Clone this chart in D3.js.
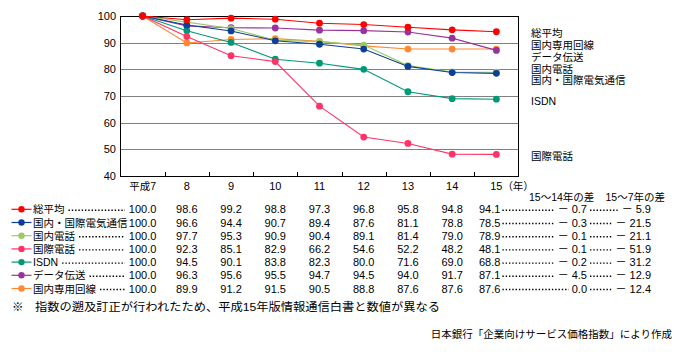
<!DOCTYPE html>
<html>
<head>
<meta charset="utf-8">
<script src="https://cdn.jsdelivr.net/npm/d3@7"></script>
<style>
  body { margin: 0; background: #fff; }
  text { font-family: 'Liberation Sans', 'Noto Sans CJK JP', sans-serif; fill: #000; }
</style>
</head>
<body>
<div id="main"></div>
<script>
const ctx = { w: 679, h: 352 };
const plot = { left: 120.5, right: 518.5, top: 16, bottom: 176 };

// years (平成)
const years = ['平成7', '8', '9', '10', '11', '12', '13', '14', '15'];
const yTicks = [40, 50, 60, 70, 80, 90, 100];

const names = ['総平均', '国内・国際電気通信', '国内電話', '国際電話', 'ISDN', 'データ伝送', '国内専用回線'];
const colors = ['#ff0000', '#0c3f99', '#99cc66', '#ff3366', '#009977', '#993399', '#ff8833'];

const totalAvg   = [100.0, 98.6, 99.2, 98.8, 97.3, 96.8, 95.8, 94.8, 94.1];
const domIntl    = [100.0, 96.6, 94.4, 90.7, 89.4, 87.6, 81.1, 78.8, 78.5];
const domPhone   = [100.0, 97.7, 95.3, 90.9, 90.4, 89.1, 81.4, 79.0, 78.9];
const intlPhone  = [100.0, 92.3, 85.1, 82.9, 66.2, 54.6, 52.2, 48.2, 48.1];
const isdn       = [100.0, 94.5, 90.1, 83.8, 82.3, 80.0, 71.6, 69.0, 68.8];
const dataTrans  = [100.0, 96.3, 95.6, 95.5, 94.7, 94.5, 94.0, 91.7, 87.1];
const leasedLine = [100.0, 89.9, 91.2, 91.5, 90.5, 88.8, 87.6, 87.6, 87.6];
const seriesValues = [totalAvg, domIntl, domPhone, intlPhone, isdn, dataTrans, leasedLine];

// 15〜14年の差 / 15〜7年の差
const diff1514 = [-0.7, -0.3, -0.1, -0.1, -0.2, -4.5, 0.0];
const diff1507 = [-5.9, -21.5, -21.1, -51.9, -31.2, -12.9, -12.4];

const noteText = '指数の遡及訂正が行われたため、平成15年版情報通信白書と数値が異なる';
const sourceText = '日本銀行「企業向けサービス価格指数」により作成';

const series = names.map((n, i) => ({ name: n, color: colors[i], values: seriesValues[i], d1: diff1514[i], d2: diff1507[i] }));

function fmtDiff(v) {
    return v === 0 ? '0.0' : '－ ' + Math.abs(v).toFixed(1);
}

function createViz() {
    const svg = d3.select('#main').append('svg')
        .attr('width', ctx.w)
        .attr('height', ctx.h);

    const x = d3.scaleBand().domain(years).range([plot.left, plot.right]).padding(0);
    const px = d => x(d) + x.bandwidth() / 2;
    const y = d3.scaleLinear().domain([40, 100]).range([plot.bottom, plot.top]);

    // grid
    svg.append('g').selectAll('line')
        .data(yTicks.filter(t => t > 40 && t < 100))
        .enter().append('line')
        .attr('x1', plot.left).attr('x2', plot.right)
        .attr('y1', d => Math.round(y(d)) + 0.5).attr('y2', d => Math.round(y(d)) + 0.5)
        .attr('stroke', '#808080');

    // frame
    svg.append('rect')
        .attr('x', plot.left).attr('y', plot.top + 0.5)
        .attr('width', plot.right - plot.left).attr('height', plot.bottom - plot.top)
        .attr('fill', 'none').attr('stroke', '#000');

    // inner ticks on bottom
    svg.append('g').selectAll('line')
        .data(years.slice(1))
        .enter().append('line')
        .attr('x1', d => Math.round(x(d)) + 0.5).attr('x2', d => Math.round(x(d)) + 0.5)
        .attr('y1', plot.bottom).attr('y2', plot.bottom - 4)
        .attr('stroke', '#000');

    // y labels
    svg.append('g').selectAll('text')
        .data(yTicks)
        .enter().append('text')
        .attr('x', 116).attr('y', d => y(d) + 4)
        .attr('text-anchor', 'end')
        .style('font-size', '11px')
        .text(d => d);

    // x labels (header row)
    svg.append('g').selectAll('text')
        .data(years)
        .enter().append('text')
        .attr('x', px).attr('y', 190)
        .attr('text-anchor', 'middle')
        .style('font-size', d => d === '平成7' ? '10.5px' : '11px')
        .text(d => d);
    svg.append('text')
        .attr('x', px('15') + 6).attr('y', 190)
        .style('font-size', '10.5px')
        .text('（年）');

    // lines
    const line = d3.line().x((d, i) => px(years[i])).y(d => y(d));
    const lg = svg.append('g');
    series.slice().reverse().forEach(s => {
        lg.append('path')
            .attr('d', line(s.values))
            .attr('fill', 'none')
            .attr('stroke', s.color)
            .attr('stroke-width', 1.1);
        lg.append('g').selectAll('circle')
            .data(s.values)
            .enter().append('circle')
            .attr('cx', (d, i) => px(years[i]))
            .attr('cy', d => y(d))
            .attr('r', 3.4)
            .attr('fill', s.color);
    });

    // right labels with simple overlap resolving
    const labs = series.map(s => ({ name: s.name, y: y(s.values[s.values.length - 1]) + 1.5 }))
        .sort((a, b) => a.y - b.y);
    const gap = 11.8;
    for (let k = 0; k < 60; k++) {
        for (let i = 1; i < labs.length; i++) {
            const ov = gap - (labs[i].y - labs[i - 1].y);
            if (ov > 0) {
                labs[i].y += ov / 2;
                labs[i - 1].y -= ov / 2;
            }
        }
    }
    svg.append('g').selectAll('text')
        .data(labs)
        .enter().append('text')
        .attr('x', 531).attr('y', d => d.y + 4)
        .style('font-size', '10.5px')
        .text(d => d.name);

    // table header for diffs
    svg.append('text').attr('x', 529).attr('y', 200.5)
        .style('font-size', '10.5px').text('15〜14年の差');
    svg.append('text').attr('x', 665).attr('y', 200.5)
        .attr('text-anchor', 'end')
        .style('font-size', '10.5px').text('15〜7年の差');

    // table rows
    const rowY = i => 209.3 + i * 13.2;
    const dotted = (g, x1, x2, yy) => {
        if (x2 <= x1) return;
        g.append('line')
            .attr('x1', x1).attr('x2', x2)
            .attr('y1', yy).attr('y2', yy)
            .attr('stroke', '#000')
            .attr('stroke-width', 1.4)
            .attr('stroke-dasharray', '1.4,1.9');
    };

    series.forEach((s, i) => {
        const yy = rowY(i);
        const g = svg.append('g');

        // legend marker
        g.append('line')
            .attr('x1', 11.5).attr('x2', 31.5)
            .attr('y1', yy).attr('y2', yy)
            .attr('stroke', s.color).attr('stroke-width', 1.2);
        g.append('circle')
            .attr('cx', 21.5).attr('cy', yy).attr('r', 3.2)
            .attr('fill', s.color);

        const lab = g.append('text')
            .attr('x', 33).attr('y', yy + 4)
            .style('font-size', '10.5px')
            .text(s.name);
        const labEnd = 33 + lab.node().getComputedTextLength();
        dotted(g, labEnd + 4, 125, yy + 1);

        s.values.forEach((v, j) => {
            const last = j === s.values.length - 1;
            g.append('text')
                .attr('x', last ? px(years[j]) + 4 : px(years[j]))
                .attr('y', yy + 4)
                .attr('text-anchor', last ? 'end' : 'middle')
                .style('font-size', '11px')
                .text(v.toFixed(1));
        });

        const t1 = g.append('text')
            .attr('x', 587).attr('y', yy + 4)
            .attr('text-anchor', 'end')
            .style('font-size', '11px')
            .text(fmtDiff(s.d1));
        const t2 = g.append('text')
            .attr('x', 651).attr('y', yy + 4)
            .attr('text-anchor', 'end')
            .style('font-size', '11px')
            .text(fmtDiff(s.d2));
        const t1Start = 587 - t1.node().getComputedTextLength();
        const t2Start = 651 - t2.node().getComputedTextLength();
        dotted(g, px('15') + 6, t1Start - 3, yy + 1);
        dotted(g, 590, t2Start - 4, yy + 1);
    });

    // footnote
    svg.append('text').attr('x', 12).attr('y', 311)
        .style('font-size', '11.5px').text('※');
    svg.append('text').attr('x', 35).attr('y', 311)
        .attr('textLength', 405).attr('lengthAdjust', 'spacingAndGlyphs')
        .style('font-size', '11.5px').text(noteText);
    svg.append('text').attr('x', 672).attr('y', 338)
        .attr('text-anchor', 'end')
        .style('font-size', '10.5px').text(sourceText);
}

createViz();
</script>
</body>
</html>
